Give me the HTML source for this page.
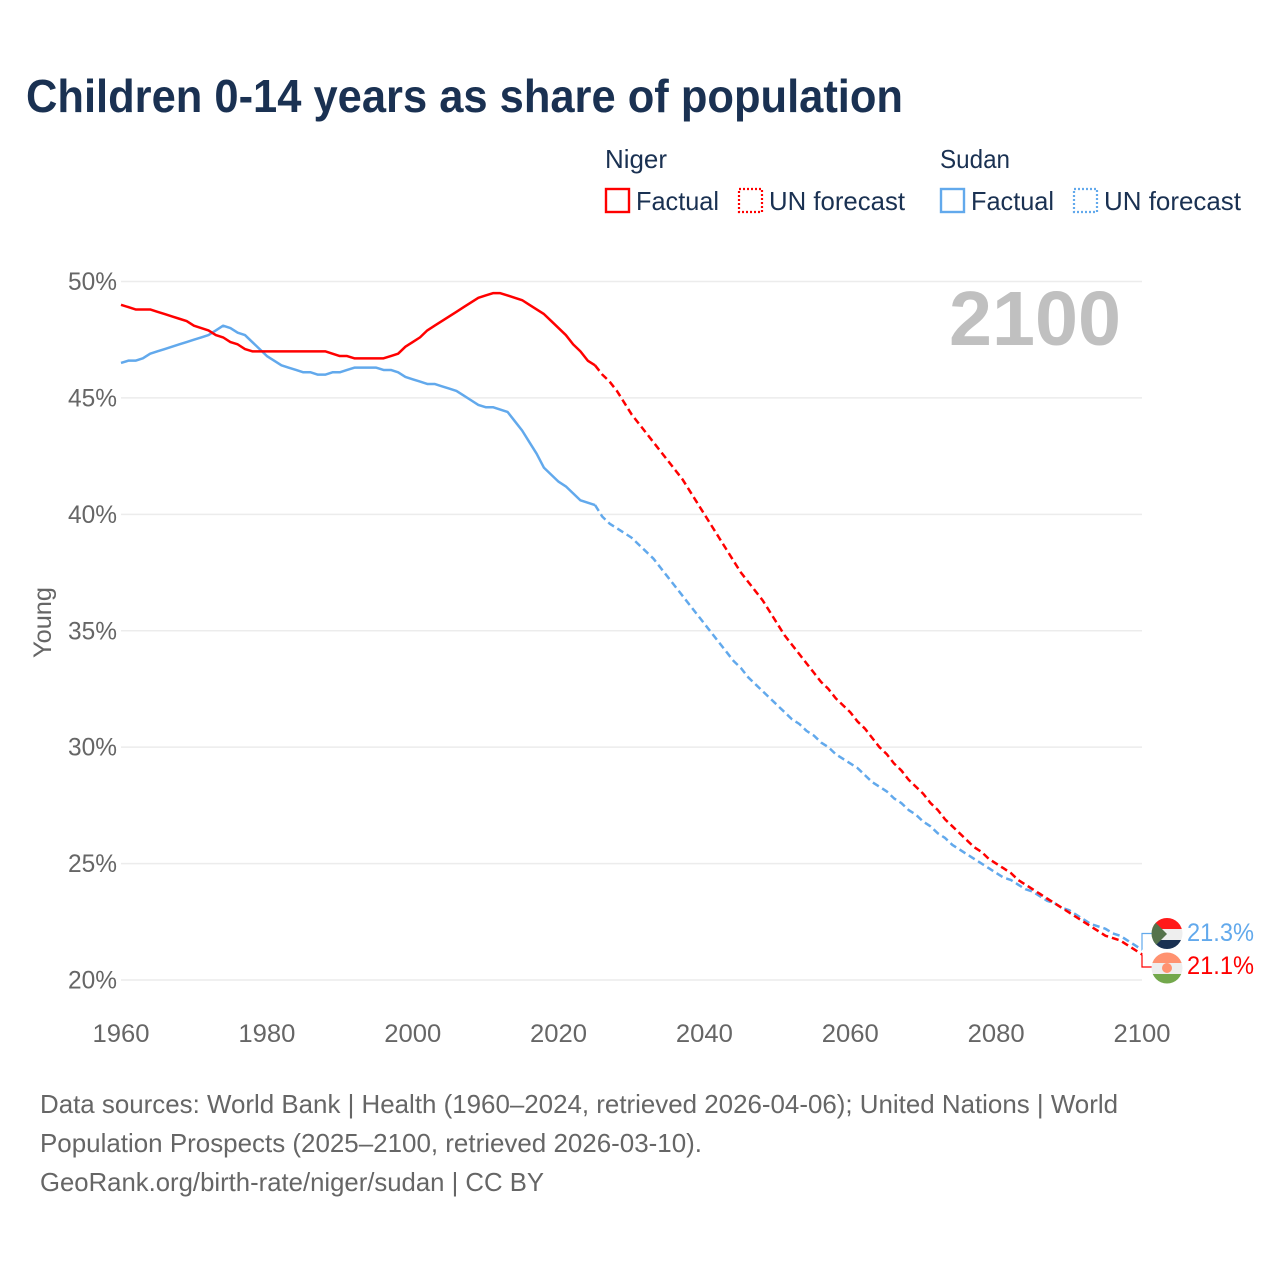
<!DOCTYPE html>
<html lang="en">
<head>
<meta charset="utf-8">
<title>Children 0-14 years as share of population</title>
<style>
  html, body { margin: 0; padding: 0; background: #fff; }
  svg { display: block; font-family: "Liberation Sans", sans-serif; }
</style>
</head>
<body>
<svg id="chart" xmlns="http://www.w3.org/2000/svg" width="1280" height="1280" viewBox="0 0 1280 1280">
  <rect width="1280" height="1280" fill="#ffffff"/>
  <text x="26" y="112" font-size="46" font-weight="700" fill="#1a3152" textLength="877" lengthAdjust="spacingAndGlyphs">Children 0-14 years as share of population</text>

  <g fill="#1a3152" font-size="26">
    <text x="605" y="168" textLength="62" lengthAdjust="spacingAndGlyphs">Niger</text>
    <text x="940" y="168" textLength="70" lengthAdjust="spacingAndGlyphs">Sudan</text>
    <g>
      <rect x="606" y="189" width="23" height="23" fill="none" stroke="#ff0000" stroke-width="2.4"/>
      <text x="636" y="210" textLength="83" lengthAdjust="spacingAndGlyphs">Factual</text>
    </g>
    <g>
      <rect x="739" y="189" width="23" height="23" fill="none" stroke="#ff0000" stroke-width="2.2" stroke-dasharray="2 2"/>
      <text x="769" y="210" textLength="136" lengthAdjust="spacingAndGlyphs">UN forecast</text>
    </g>
    <g>
      <rect x="941" y="189" width="23" height="23" fill="none" stroke="#62a9ec" stroke-width="2.4"/>
      <text x="971" y="210" textLength="83" lengthAdjust="spacingAndGlyphs">Factual</text>
    </g>
    <g>
      <rect x="1074" y="189" width="23" height="23" fill="none" stroke="#62a9ec" stroke-width="2.2" stroke-dasharray="2 2"/>
      <text x="1104" y="210" textLength="137" lengthAdjust="spacingAndGlyphs">UN forecast</text>
    </g>
  </g>

  <g id="grid"></g>
  <g id="yticks"></g>
  <g id="xticks"></g>

  <text transform="translate(51 658) rotate(-90)" font-size="25" fill="#666666" textLength="71" lengthAdjust="spacingAndGlyphs">Young</text>
  <text x="949" y="345" font-size="77" font-weight="700" fill="#c0c0c0" textLength="172" lengthAdjust="spacingAndGlyphs">2100</text>

  <g id="series" fill="none" stroke-width="2.5" stroke-linejoin="round"></g>

  <g id="end-labels"></g>

  <defs>
    <clipPath id="sudan-clip"><circle cx="1167" cy="933.5" r="15.5"/></clipPath>
    <clipPath id="niger-clip"><circle cx="1167" cy="968" r="15.5"/></clipPath>
  </defs>
  <g clip-path="url(#sudan-clip)">
    <rect x="1151" y="918" width="32" height="11" fill="#ff1a1a"/>
    <rect x="1151" y="929" width="32" height="11" fill="#eeeeee"/>
    <rect x="1151" y="940" width="32" height="10" fill="#1a3152"/>
    <polygon points="1151,918 1167,934 1151,950" fill="#55734c"/>
  </g>
  <g clip-path="url(#niger-clip)">
    <rect x="1151" y="952" width="32" height="11" fill="#ff9270"/>
    <rect x="1151" y="963" width="32" height="11" fill="#eeeeee"/>
    <rect x="1151" y="974" width="32" height="11" fill="#73a84c"/>
    <circle cx="1167" cy="968" r="5" fill="#ff9270"/>
  </g>

  <g font-size="26" fill="#666666">
    <text x="40" y="1113" textLength="1078" lengthAdjust="spacingAndGlyphs">Data sources: World Bank | Health (1960–2024, retrieved 2026-04-06); United Nations | World</text>
    <text x="40" y="1152" textLength="662" lengthAdjust="spacingAndGlyphs">Population Prospects (2025–2100, retrieved 2026-03-10).</text>
    <text x="40" y="1191" textLength="504" lengthAdjust="spacingAndGlyphs">GeoRank.org/birth-rate/niger/sudan | CC BY</text>
  </g>
</svg>

<script>
const yTickValues = [20, 25, 30, 35, 40, 45, 50];
const xTickYears = [1960, 1980, 2000, 2020, 2040, 2060, 2080, 2100];
const factualStartYear = 1960;
const forecastStartYear = 2025;
const nigerFactual = [
  49.0,48.9,48.8,48.8,48.8,48.7,48.6,48.5,48.4,48.3,
  48.1,48.0,47.9,47.7,47.6,47.4,47.3,47.1,47.0,47.0,
  47.0,47.0,47.0,47.0,47.0,47.0,47.0,47.0,47.0,46.9,
  46.8,46.8,46.7,46.7,46.7,46.7,46.7,46.8,46.9,47.2,
  47.4,47.6,47.9,48.1,48.3,48.5,48.7,48.9,49.1,49.3,
  49.4,49.5,49.5,49.4,49.3,49.2,49.0,48.8,48.6,48.3,
  48.0,47.7,47.3,47.0,46.6,46.4
];
const sudanFactual = [
  46.5,46.6,46.6,46.7,46.9,47.0,47.1,47.2,47.3,47.4,
  47.5,47.6,47.7,47.9,48.1,48.0,47.8,47.7,47.4,47.1,
  46.8,46.6,46.4,46.3,46.2,46.1,46.1,46.0,46.0,46.1,
  46.1,46.2,46.3,46.3,46.3,46.3,46.2,46.2,46.1,45.9,
  45.8,45.7,45.6,45.6,45.5,45.4,45.3,45.1,44.9,44.7,
  44.6,44.6,44.5,44.4,44.0,43.6,43.1,42.6,42.0,41.7,
  41.4,41.2,40.9,40.6,40.5,40.4
];
const nigerForecast = [
  46.4,46.0,45.7,45.3,44.8,
  44.3,43.9,43.5,43.1,42.7,42.3,41.9,41.5,41.0,40.5,
  40.0,39.5,39.0,38.5,38.0,37.5,37.1,36.7,36.3,35.8,
  35.3,34.8,34.4,34.0,33.6,33.2,32.8,32.5,32.1,31.8,
  31.5,31.1,30.8,30.4,30.0,29.7,29.3,29.0,28.6,28.3,
  28.0,27.6,27.3,26.9,26.6,26.3,26.0,25.7,25.5,25.2,
  25.0,24.8,24.6,24.3,24.1,23.9,23.7,23.5,23.3,23.1,
  22.9,22.7,22.5,22.3,22.1,21.9,21.8,21.7,21.5,21.3,
  21.1
];
const sudanForecast = [
  40.4,39.9,39.6,39.4,39.2,
  39.0,38.7,38.4,38.1,37.7,37.3,36.9,36.5,36.1,35.7,
  35.3,34.9,34.5,34.1,33.7,33.4,33.0,32.7,32.4,32.1,
  31.8,31.5,31.2,31.0,30.7,30.5,30.2,30.0,29.7,29.5,
  29.3,29.1,28.8,28.5,28.3,28.1,27.8,27.6,27.3,27.1,
  26.8,26.6,26.3,26.1,25.8,25.6,25.4,25.2,25.0,24.8,
  24.6,24.4,24.3,24.1,23.9,23.8,23.6,23.4,23.3,23.1,
  23.0,22.8,22.6,22.4,22.3,22.2,22.0,21.9,21.7,21.5,
  21.3
];

const SVG_NS = 'http://www.w3.org/2000/svg';
const RED = '#ff0000';
const BLUE = '#62a9ec';

function xScale(year) {
  return 121 + (year - 1960) * (1142 - 121) / 140;
}
function yScale(value) {
  return 980 - (value - 20) * (980 - 281.5) / 30;
}
function linePath(values, startYear) {
  return values.map(function (v, i) {
    return (i ? 'L' : 'M') + xScale(startYear + i).toFixed(2) + ' ' + yScale(v).toFixed(2);
  }).join('');
}

const gridGroup = document.getElementById('grid');
const yTickGroup = document.getElementById('yticks');
const xTickGroup = document.getElementById('xticks');
const seriesGroup = document.getElementById('series');
const endGroup = document.getElementById('end-labels');

yTickValues.forEach(function (v) {
  const line = document.createElementNS(SVG_NS, 'line');
  
  
  line.setAttribute('x1', 121);
  line.setAttribute('x2', 1142);
  line.setAttribute('y1', yScale(v));
  line.setAttribute('y2', yScale(v));
  line.setAttribute('stroke', '#ececec');
  line.setAttribute('stroke-width', '1.5');
  gridGroup.appendChild(line);

  const label = document.createElementNS(SVG_NS, 'text');
  
  
  label.setAttribute('x', 68);
  label.setAttribute('y', yScale(v) + 8.5);
  label.setAttribute('font-size', '25');
  label.setAttribute('fill', '#666666');
  label.setAttribute('textLength', '49');
  label.setAttribute('lengthAdjust', 'spacingAndGlyphs');
  label.textContent = v + '%';
  yTickGroup.appendChild(label);
});

xTickYears.forEach(function (year) {
  const label = document.createElementNS(SVG_NS, 'text');
  
  
  label.setAttribute('x', xScale(year) - 28.5);
  label.setAttribute('y', 1042);
  label.setAttribute('font-size', '25');
  label.setAttribute('fill', '#666666');
  label.setAttribute('textLength', '57');
  label.setAttribute('lengthAdjust', 'spacingAndGlyphs');
  label.textContent = year;
  xTickGroup.appendChild(label);
});

function addLine(name, values, startYear, color, dashed) {
  const path = document.createElementNS(SVG_NS, 'path');
  
  
  path.setAttribute('d', linePath(values, startYear));
  path.setAttribute('stroke', color);
  if (dashed) {
    path.setAttribute('stroke-dasharray', '7 4');
  }
  seriesGroup.appendChild(path);
}
addLine('line-sudan-factual', sudanFactual, factualStartYear, BLUE, false);
addLine('line-niger-factual', nigerFactual, factualStartYear, RED, false);
addLine('line-sudan-forecast', sudanForecast, forecastStartYear, BLUE, true);
addLine('line-niger-forecast', nigerForecast, forecastStartYear, RED, true);

function addEnd(name, value, color, labelY, connectorY) {
  const year = forecastStartYear + nigerForecast.length - 1;
  const cx = xScale(year);
  const connector = document.createElementNS(SVG_NS, 'path');
  
  
  connector.setAttribute('d', 'M' + cx + ' ' + yScale(value) + 'V' + connectorY + 'H1153');
  connector.setAttribute('fill', 'none');
  connector.setAttribute('stroke', color);
  connector.setAttribute('stroke-width', '1.2');
  endGroup.appendChild(connector);

  const label = document.createElementNS(SVG_NS, 'text');
  
  
  label.setAttribute('x', 1187);
  label.setAttribute('y', labelY);
  label.setAttribute('font-size', '25');
  label.setAttribute('fill', color);
  label.setAttribute('textLength', '67');
  label.setAttribute('lengthAdjust', 'spacingAndGlyphs');
  label.textContent = value.toFixed(1) + '%';
  endGroup.appendChild(label);
}
addEnd('sudan', sudanForecast[sudanForecast.length - 1], BLUE, 941, 933.5);
addEnd('niger', nigerForecast[nigerForecast.length - 1], RED, 974, 967);
</script>
</body>
</html>
